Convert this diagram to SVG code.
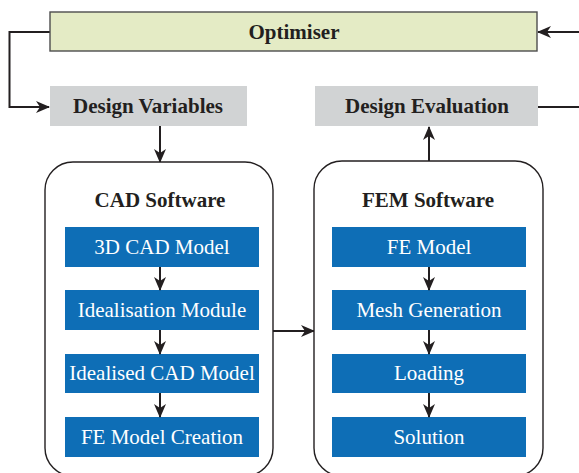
<svg xmlns="http://www.w3.org/2000/svg" width="579" height="473" viewBox="0 0 579 473">
<style>
.blue{fill:#0e6eb6}
.grey{fill:#d1d3d4}
.cont{fill:#ffffff;stroke:#231f20;stroke-width:1.4}
.ln{fill:none;stroke:#231f20;stroke-width:2}
</style>
<defs>
<marker id="ah" markerWidth="14" markerHeight="12" viewBox="0 0 14 12" refX="13" refY="6" orient="auto" markerUnits="userSpaceOnUse">
<path d="M0,0 L14,6 L0,12 L4,6 Z" fill="#231f20"/>
</marker>
</defs>
<rect width="579" height="473" fill="#ffffff"/>
<g id="connectors">
<polyline class="ln" points="50,32 9.5,32 9.5,107 49,107" marker-end="url(#ah)"/>
<line class="ln" x1="579" y1="32" x2="538" y2="32" marker-end="url(#ah)"/>
<line class="ln" x1="538" y1="107" x2="579" y2="107"/>
<line class="ln" x1="160" y1="126" x2="160" y2="162" marker-end="url(#ah)"/>
<line class="ln" x1="429" y1="161" x2="429" y2="127" marker-end="url(#ah)"/>
<line class="ln" x1="273" y1="331" x2="314" y2="331" marker-end="url(#ah)"/>
</g>
<g id="optimiser">
<rect x="50" y="12" width="487" height="39" fill="#e4ebc5" stroke="#4d4d4d" stroke-width="1.4"/>
<text x="294" y="39" font-family="Liberation Serif" font-size="21" font-weight="bold" fill="#231f20" text-anchor="middle">Optimiser</text>
</g>
<g id="design-variables">
<rect class="grey" x="50" y="86" width="197" height="40"/>
<text x="148" y="113" font-family="Liberation Serif" font-size="21" font-weight="bold" fill="#231f20" text-anchor="middle">Design Variables</text>
</g>
<g id="design-evaluation">
<rect class="grey" x="315" y="86" width="223" height="40"/>
<text x="427" y="113" font-family="Liberation Serif" font-size="21" font-weight="bold" fill="#231f20" text-anchor="middle">Design Evaluation</text>
</g>
<g id="cad-software">
<rect class="cont" x="45" y="162" width="228" height="314" rx="28" ry="28"/>
<text x="160" y="207" font-family="Liberation Serif" font-size="21" font-weight="bold" fill="#231f20" text-anchor="middle">CAD Software</text>
</g>
<g id="fem-software">
<rect class="cont" x="314" y="161" width="229" height="315" rx="28" ry="28"/>
<text x="428" y="207" font-family="Liberation Serif" font-size="21" font-weight="bold" fill="#231f20" text-anchor="middle">FEM Software</text>
</g>
<g id="cad-3d-model"><rect class="blue" x="65" y="227" width="194" height="40"/><text x="162" y="254" font-family="Liberation Serif" font-size="21" fill="#ffffff" text-anchor="middle">3D CAD Model</text></g>
<g id="cad-idealisation-module"><rect class="blue" x="65" y="290" width="194" height="40"/><text x="162" y="317" font-family="Liberation Serif" font-size="21" fill="#ffffff" text-anchor="middle">Idealisation Module</text></g>
<g id="cad-idealised-model"><rect class="blue" x="65" y="354" width="194" height="39"/><text x="162" y="380" font-family="Liberation Serif" font-size="21" fill="#ffffff" text-anchor="middle">Idealised CAD Model</text></g>
<g id="cad-fe-model-creation"><rect class="blue" x="65" y="417" width="194" height="40"/><text x="162" y="444" font-family="Liberation Serif" font-size="21" fill="#ffffff" text-anchor="middle">FE Model Creation</text></g>
<g id="fem-fe-model"><rect class="blue" x="332" y="227" width="194" height="40"/><text x="429" y="254" font-family="Liberation Serif" font-size="21" fill="#ffffff" text-anchor="middle">FE Model</text></g>
<g id="fem-mesh-generation"><rect class="blue" x="332" y="290" width="194" height="40"/><text x="429" y="317" font-family="Liberation Serif" font-size="21" fill="#ffffff" text-anchor="middle">Mesh Generation</text></g>
<g id="fem-loading"><rect class="blue" x="332" y="354" width="194" height="39"/><text x="429" y="380" font-family="Liberation Serif" font-size="21" fill="#ffffff" text-anchor="middle">Loading</text></g>
<g id="fem-solution"><rect class="blue" x="332" y="417" width="194" height="40"/><text x="429" y="444" font-family="Liberation Serif" font-size="21" fill="#ffffff" text-anchor="middle">Solution</text></g>
<g id="inner-connectors">
<line class="ln" x1="160" y1="267" x2="160" y2="290" marker-end="url(#ah)"/>
<line class="ln" x1="160" y1="330" x2="160" y2="354" marker-end="url(#ah)"/>
<line class="ln" x1="160" y1="393" x2="160" y2="417" marker-end="url(#ah)"/>
<line class="ln" x1="429" y1="267" x2="429" y2="290" marker-end="url(#ah)"/>
<line class="ln" x1="429" y1="330" x2="429" y2="354" marker-end="url(#ah)"/>
<line class="ln" x1="429" y1="393" x2="429" y2="417" marker-end="url(#ah)"/>
</g>
</svg>
